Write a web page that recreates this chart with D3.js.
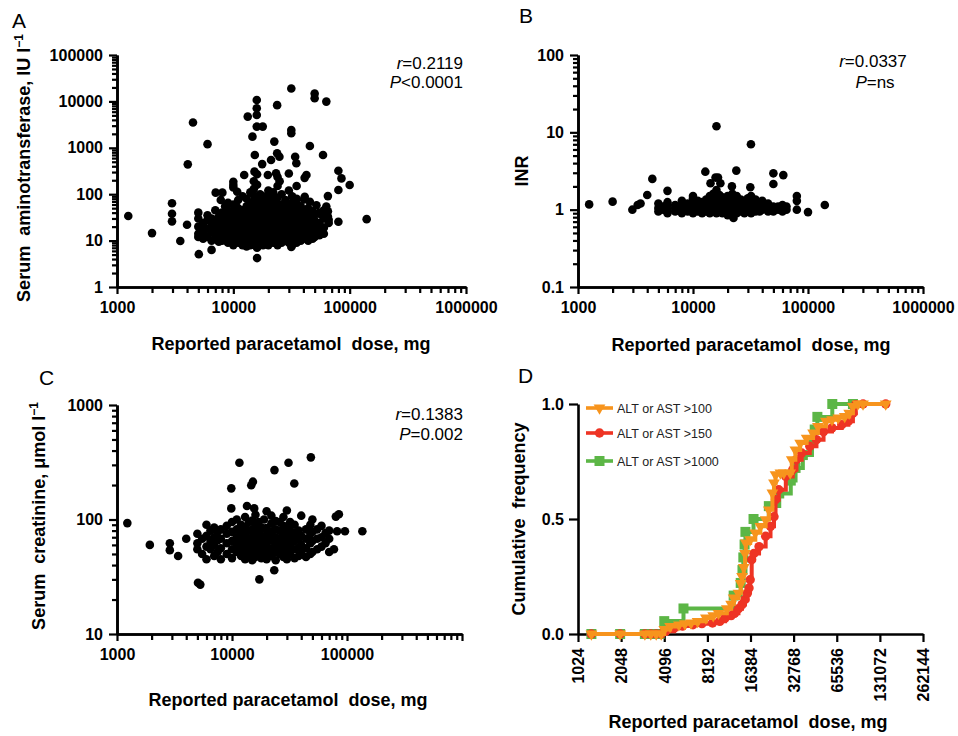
<!DOCTYPE html>
<html>
<head>
<meta charset="utf-8">
<script src="https://cdn.jsdelivr.net/npm/d3@7"></script>
<style>
body { margin: 0; background: #fff; }
</style>
</head>
<body>
<script>
// ---- data ----
var doseTicks = [1000, 10000, 100000, 1000000];
var aminoTicks = [1, 10, 100, 1000, 10000, 100000];
var inrTicks = [0.1, 1, 10, 100];
var creatTicks = [10, 100, 1000];
var cumDoseTicks = [1024, 2048, 4096, 8192, 16384, 32768, 65536, 131072, 262144];
var cumFreqTicks = [0, 0.5, 1];

// panel A: serum aminotransferase (IU/l) vs dose (mg)
var aminoOutliers = [
    [1250, 34], [2000, 14.5], [2970, 64], [2970, 38], [2970, 26], [3500, 9.8], [4000, 22], [4060, 440],
    [4500, 3500], [5050, 5.1], [5000, 40], [6000, 1200], [6500, 6.3], [7050, 108], [8050, 108], [7800, 75],
    [13300, 4700], [15900, 10700], [15900, 7100], [15900, 5100], [15900, 2860], [17900, 2860], [14600, 1740],
    [16000, 4.2], [23800, 8300], [31500, 19000], [31500, 2420], [31500, 2060], [31500, 7.3], [50000, 14800],
    [50000, 11700], [63000, 9900], [22500, 1360], [45500, 1090], [59000, 700], [23800, 760], [24900, 640],
    [15300, 700], [34000, 640], [34800, 465], [21100, 545], [17700, 445], [12400, 260], [80000, 320],
    [85000, 219], [100000, 158], [80000, 123], [65000, 91], [80000, 25.5], [140000, 29], [42500, 260],
    [41000, 225], [30000, 280], [24000, 235], [25000, 190], [15000, 190], [16000, 270], [10000, 185],
    [10000, 158], [10800, 113], [40500, 77], [57000, 36], [19800, 260], [23300, 282], [15200, 306],
    [60000, 14], [45500, 69], [51800, 58], [63000, 54], [41100, 88], [65000, 43], [65000, 33]
];
// columns: dose, then values
var aminoCols = [
    [5000, 12, 14, 20, 30], [5500, 11, 16, 24], [6000, 12, 18, 28, 35], [6500, 10, 15, 22, 30],
    [7000, 11, 14, 19, 26, 45], [7500, 9.5, 13, 17, 24, 33], [8000, 10, 12, 16, 21, 28, 40],
    [8500, 11, 15, 20, 27, 55], [9000, 9, 13, 18, 24, 32, 45, 65],
    [10000, 8, 10, 12, 15, 19, 25, 32, 42, 60, 140], [11000, 9, 11, 14, 18, 23, 30, 38, 50, 75],
    [12000, 8, 10, 13, 16, 20, 26, 34, 45, 90], [13000, 7.5, 9, 12, 15, 19, 24, 31, 40, 55, 80],
    [14000, 8, 10, 13, 17, 22, 28, 36, 48, 65, 110], [15000, 9, 11, 14, 18, 23, 30, 39, 52, 70, 95, 130],
    [16000, 7, 8.5, 10, 12, 16, 20, 26, 34, 44, 60, 85, 160], [17000, 9, 11, 14, 18, 23, 30, 40, 55, 75, 100],
    [18000, 8, 10, 13, 17, 22, 28, 37, 50, 68, 90], [19000, 9, 12, 15, 20, 26, 33, 45, 62],
    [20000, 8, 10, 13, 16, 21, 27, 35, 47, 65, 90, 120], [22000, 9, 11, 14, 18, 24, 31, 42, 58, 80, 110],
    [24000, 8, 10, 12, 15, 20, 26, 34, 45, 62, 85, 150], [26000, 9, 11, 14, 18, 24, 32, 44, 60, 100],
    [28000, 10, 13, 16, 21, 28, 38, 52, 75], [30000, 9, 11, 14, 18, 23, 30, 40, 55, 120],
    [32000, 8, 10, 12, 15, 20, 26, 35, 48, 65, 90], [35000, 9, 12, 15, 19, 25, 33, 45, 62, 80, 150],
    [38000, 10, 13, 17, 22, 29, 40, 55], [40000, 11, 14, 18, 24, 32, 44],
    [44000, 10, 13, 16, 21, 28, 38, 50], [48000, 11, 14, 18, 24, 32, 43], [50000, 12, 15, 20, 27, 36],
    [55000, 13, 17, 24, 40], [60000, 19, 30, 45], [66000, 24, 28]
];

// panel B: INR vs dose
var inrOutliers = [
    [1250, 1.17], [2000, 1.27], [2970, 1.0], [3300, 1.15], [3500, 1.2], [4000, 1.55], [4430, 2.5], [6000, 1.75],
    [12800, 3.1], [15700, 2.6], [14200, 2.2], [16000, 12], [17300, 2.2], [16500, 2.6], [21800, 2.0],
    [23800, 3.2], [31500, 1.95], [31900, 7.0], [50000, 2.95], [50000, 2.15], [61000, 2.8], [80000, 1.5],
    [80000, 1.3], [80000, 1.0], [100000, 0.93], [140000, 1.15], [22500, 0.78]
];
var inrCols = [
    [5000, 0.95, 1.05, 1.2], [5500, 1.0, 1.1], [6000, 0.9, 1.0, 1.15, 1.25], [7000, 0.95, 1.05, 1.15],
    [8000, 0.9, 1.0, 1.1, 1.3], [9000, 0.95, 1.05, 1.2], [10000, 0.9, 1.0, 1.1, 1.2, 1.4, 1.5],
    [11000, 0.95, 1.05, 1.15, 1.3], [12000, 0.9, 1.0, 1.1, 1.25], [13000, 0.95, 1.05, 1.2, 1.35],
    [14000, 0.9, 1.0, 1.1, 1.25, 1.5], [15000, 0.95, 1.05, 1.15, 1.3, 1.6], [16000, 0.9, 1.0, 1.1, 1.2, 1.4, 1.8],
    [17000, 0.95, 1.05, 1.15, 1.3, 1.55], [18000, 0.9, 1.0, 1.1, 1.25, 1.45], [20000, 0.85, 0.95, 1.05, 1.15, 1.3, 1.5],
    [22000, 0.85, 0.9, 1.0, 1.1, 1.2, 1.4, 1.6], [24000, 0.9, 1.0, 1.1, 1.25, 1.5], [26000, 0.95, 1.05, 1.2, 1.35],
    [28000, 0.9, 1.0, 1.1, 1.3], [30000, 0.95, 1.05, 1.15, 1.4], [32000, 0.9, 1.0, 1.1, 1.25, 1.5],
    [35000, 0.95, 1.05, 1.2, 1.35], [38000, 0.95, 1.05, 1.15], [40000, 1.0, 1.1, 1.3], [45000, 0.95, 1.05, 1.2],
    [50000, 0.95, 1.0, 1.1], [55000, 1.0, 1.1], [60000, 0.95, 1.05, 1.15], [65000, 1.0, 1.1]
];

// panel C: serum creatinine (umol/l) vs dose
var creatOutliers = [
    [1230, 93], [1930, 60], [2880, 62], [2880, 54], [3400, 48], [4000, 68], [5060, 28], [5300, 27],
    [17300, 30], [23300, 36], [11600, 313], [31000, 313], [48500, 349], [23400, 270], [15200, 214],
    [14700, 199], [34800, 206], [9860, 187], [9860, 125], [13500, 131], [15600, 125], [77000, 55],
    [80000, 106], [85000, 111], [82000, 79], [96000, 79], [136000, 79]
];
var creatCols = [
    [5000, 55, 62, 75], [5500, 50, 68], [6000, 45, 58, 72, 90], [6500, 55, 65, 80], [7000, 48, 60, 70, 85],
    [7500, 52, 66, 78], [8000, 45, 56, 68, 82], [9000, 50, 62, 75, 88], [10000, 46, 55, 65, 78, 95],
    [11000, 52, 60, 70, 82, 100], [12000, 48, 56, 66, 76, 90], [13000, 45, 53, 62, 72, 85, 105],
    [14000, 50, 58, 68, 80, 95], [15000, 44, 52, 60, 70, 82, 98], [16000, 47, 55, 64, 74, 88, 110],
    [17000, 50, 58, 68, 80, 95], [18000, 46, 54, 62, 72, 85], [19000, 50, 60, 70, 83, 100],
    [20000, 45, 53, 62, 72, 84, 118], [22000, 48, 56, 66, 78, 92, 108], [24000, 44, 52, 60, 70, 82, 97],
    [26000, 50, 58, 68, 80, 95], [28000, 47, 55, 64, 75, 88, 105], [30000, 45, 53, 62, 72, 85, 120],
    [32000, 50, 58, 68, 80, 95], [35000, 46, 55, 65, 76, 90], [38000, 48, 57, 68, 80], [40000, 50, 60, 72, 108],
    [44000, 47, 56, 68, 82], [48000, 50, 62, 75, 90], [50000, 52, 65, 78, 100], [55000, 55, 68, 82],
    [60000, 58, 70, 88], [65000, 62, 76], [70000, 52, 68, 80]
];

// panel D: cumulative frequency [dose, fraction]
var cum100 = [
    [1270, 0], [2016, 0], [3000, 0], [3300, 0], [3600, 0], [3900, 0], [4096, 0.02], [4500, 0.033], [5180, 0.04],
    [5700, 0.045], [6300, 0.048], [7000, 0.055], [8000, 0.07], [9000, 0.08], [9800, 0.09], [11200, 0.11],
    [12000, 0.13], [12500, 0.157], [13500, 0.178], [14000, 0.22], [14300, 0.25], [14700, 0.29], [15000, 0.35],
    [15200, 0.396], [16300, 0.41], [17700, 0.44], [19200, 0.468], [20900, 0.497], [22000, 0.54], [23300, 0.613],
    [23900, 0.657], [24500, 0.693], [26500, 0.70], [28000, 0.70], [31000, 0.70], [31800, 0.758], [33700, 0.80],
    [36400, 0.83], [40400, 0.852], [44800, 0.874], [48400, 0.903], [55000, 0.925], [60700, 0.932], [67000, 0.94],
    [74500, 0.946], [80000, 0.96], [85000, 0.99], [92000, 1.0], [100000, 1.0], [144000, 1.0]
];
var cum150 = [
    [1270, 0], [2016, 0], [3000, 0], [3300, 0], [3600, 0], [3900, 0], [4200, 0.012], [4800, 0.025], [5500, 0.035],
    [6500, 0.04], [7500, 0.045], [8900, 0.048], [10000, 0.055], [10900, 0.07], [12000, 0.08], [12700, 0.09],
    [13500, 0.11], [14300, 0.128], [15000, 0.15], [15600, 0.178], [16000, 0.2], [16300, 0.236], [16700, 0.323],
    [17300, 0.35], [18800, 0.38], [20900, 0.425], [22600, 0.468], [23900, 0.51], [24500, 0.584], [25800, 0.627],
    [28900, 0.685], [32300, 0.714], [34300, 0.758], [37300, 0.787], [42500, 0.816], [47300, 0.845], [53000, 0.88],
    [60700, 0.896], [71000, 0.91], [79000, 0.925], [85000, 0.96], [89000, 0.997], [100000, 1.0], [144000, 1.0]
];
var cum1000 = [
    [1270, 0], [2016, 0], [3000, 0], [3400, 0], [3800, 0], [4096, 0.056], [5580, 0.111], [12500, 0.167],
    [14000, 0.222], [14400, 0.278], [14600, 0.333], [14900, 0.389], [15100, 0.444], [17200, 0.5], [22000, 0.556],
    [26000, 0.611], [31300, 0.667], [33800, 0.722], [38000, 0.778], [44000, 0.833], [46000, 0.889],
    [48000, 0.944], [61000, 1.0], [85000, 1.0]
];
var seriesNames = ['ALT or AST >100', 'ALT or AST >150', 'ALT or AST >1000'];
var seriesColors = ['#f7941d', '#ee3424', '#5cb646'];

// ---- drawing ----
var FONT = '"Liberation Sans", Arial, Helvetica, sans-serif';
var svg = d3.select('body').append('svg')
    .attr('width', 958).attr('height', 736)
    .style('font-family', FONT);

function expandCols(cols) {
    var out = [];
    cols.forEach(function (c) {
        for (var i = 1; i < c.length; i++) out.push([c[0], c[i]]);
    });
    return out;
}

function minorTicks(majors) {
    var t = [];
    for (var i = 0; i < majors.length - 1; i++)
        for (var k = 2; k < 10; k++) t.push(majors[i] * k);
    return t;
}

function styleAxis(g) {
    g.attr('font-family', null).attr('font-size', null);
    g.select('.domain').attr('stroke', '#000').attr('stroke-width', 2.6);
    g.selectAll('.tick line').attr('stroke', '#000').attr('stroke-width', 2.2);
    g.selectAll('.tick text')
        .attr('fill', '#000')
        .style('font-size', '16px')
        .style('font-weight', 'bold');
}

function numLabel(d) {
    return String(d);
}

function panelLetter(x, y, s) {
    svg.append('text').attr('x', x).attr('y', y)
        .style('font-size', '21px')
        .text(s);
}

function xTitle(cx, y) {
    svg.append('text').attr('x', cx).attr('y', y)
        .attr('text-anchor', 'middle')
        .style('font-size', '18px').style('font-weight', 'bold')
        .style('white-space', 'pre')
        .text('Reported paracetamol  dose, mg');
}

function yTitle(x, cy, main, sup) {
    var t = svg.append('text')
        .attr('transform', 'translate(' + x + ',' + cy + ') rotate(-90)')
        .attr('text-anchor', 'middle')
        .style('font-size', '18px').style('font-weight', 'bold')
        .style('white-space', 'pre');
    t.append('tspan').text(main);
    if (sup) {
        t.append('tspan').attr('dy', -7).style('font-size', '12px').text(sup);
    }
}

function statText(x, y, anchor, italicPart, rest) {
    var t = svg.append('text').attr('x', x).attr('y', y)
        .attr('text-anchor', anchor)
        .style('font-size', '17px');
    t.append('tspan').style('font-style', 'italic').text(italicPart);
    t.append('tspan').text(rest);
}

function scatterPanel(p) {
    var x = d3.scaleLog().domain([1000, 1000000]).range([p.left, p.right]);
    var y = d3.scaleLog().domain(p.yDomain).range([p.bottom, p.top]);
    var g = svg.append('g');

    var gxMinor = g.append('g').attr('transform', 'translate(0,' + p.bottom + ')')
        .call(d3.axisBottom(x).tickValues(minorTicks(doseTicks)).tickSize(6).tickSizeOuter(0).tickFormat(''));
    styleAxis(gxMinor);
    var gx = g.append('g').attr('transform', 'translate(0,' + p.bottom + ')')
        .call(d3.axisBottom(x).tickValues(doseTicks).tickSize(7).tickSizeOuter(0).tickPadding(8)
            .tickFormat(function (d) { return p.xLabeled.indexOf(d) >= 0 ? numLabel(d) : ''; }));
    styleAxis(gx);

    var gyMinor = g.append('g').attr('transform', 'translate(' + p.left + ',0)')
        .call(d3.axisLeft(y).tickValues(minorTicks(p.yTicks)).tickSize(5).tickSizeOuter(0).tickFormat(''));
    styleAxis(gyMinor);
    var gy = g.append('g').attr('transform', 'translate(' + p.left + ',0)')
        .call(d3.axisLeft(y).tickValues(p.yTicks).tickSize(8).tickSizeOuter(0).tickPadding(6).tickFormat(numLabel));
    styleAxis(gy);

    var pts = p.outliers.concat(expandCols(p.cols));
    g.append('g').selectAll('circle')
        .data(pts)
        .enter()
        .append('circle')
        .attr('cx', function (d) { return x(d[0]); })
        .attr('cy', function (d) { return y(d[1]); })
        .attr('r', 4.3)
        .attr('fill', '#000');
}

// A
scatterPanel({
    left: 117, right: 466, top: 55, bottom: 287,
    yDomain: [1, 100000], yTicks: aminoTicks, xLabeled: doseTicks,
    outliers: aminoOutliers, cols: aminoCols
});
panelLetter(12, 28, 'A');
yTitle(30, 168, 'Serum  aminotransferase, IU l', '\u22121');
xTitle(291, 350);
statText(463, 69, 'end', 'r', '=0.2119');
statText(463, 88, 'end', 'P', '<0.0001');

// B
scatterPanel({
    left: 578, right: 923, top: 55, bottom: 287,
    yDomain: [0.1, 100], yTicks: inrTicks, xLabeled: doseTicks,
    outliers: inrOutliers, cols: inrCols
});
panelLetter(519, 23, 'B');
yTitle(528, 171, 'INR');
xTitle(751, 351);
statText(873, 67, 'middle', 'r', '=0.0337');
statText(875, 88, 'middle', 'P', '=ns');

// C
scatterPanel({
    left: 117, right: 462, top: 405, bottom: 634,
    yDomain: [10, 1000], yTicks: creatTicks, xLabeled: [1000, 10000, 100000],
    outliers: creatOutliers, cols: creatCols
});
panelLetter(39, 385, 'C');
yTitle(45, 516, 'Serum  creatinine, \u03bcmol l', '\u22121');
xTitle(288, 706);
statText(463, 420, 'end', 'r', '=0.1383');
statText(463, 440, 'end', 'P', '=0.002');

// D
(function () {
    var x = d3.scaleLog().base(2).domain([1024, 262144]).range([578, 923]);
    var y = d3.scaleLinear().domain([0, 1]).range([634, 404]);
    var g = svg.append('g');

    var gx = g.append('g').attr('transform', 'translate(0,634)')
        .call(d3.axisBottom(x).tickValues(cumDoseTicks).tickSize(8).tickSizeOuter(0).tickFormat(d3.format('d')));
    styleAxis(gx);
    gx.selectAll('.tick text')
        .attr('transform', 'rotate(-90)')
        .attr('text-anchor', 'end')
        .attr('x', -14).attr('y', 0).attr('dy', '0.36em');

    var gy = g.append('g').attr('transform', 'translate(578,0)')
        .call(d3.axisLeft(y).tickValues(cumFreqTicks).tickSize(9).tickSizeOuter(0).tickPadding(5).tickFormat(d3.format('.1f')));
    styleAxis(gy);

    var line = d3.line()
        .x(function (d) { return x(d[0]); })
        .y(function (d) { return y(d[1]); })
        .curve(d3.curveStepAfter);

    var series = [cum100, cum150, cum1000];
    var drawOrder = [2, 1, 0];
    var tri = d3.symbol().type(d3.symbolTriangle).size(60)();

    function marker(sel, i) {
        if (i === 0) {
            sel.append('path').attr('d', tri).attr('transform', 'rotate(180)').attr('fill', seriesColors[0]);
        } else if (i === 1) {
            sel.append('circle').attr('r', 4.7).attr('fill', seriesColors[1]);
        } else {
            sel.append('rect').attr('x', -5).attr('y', -5).attr('width', 10).attr('height', 10).attr('fill', seriesColors[2]);
        }
    }

    drawOrder.forEach(function (i) {
        var sg = g.append('g');
        sg.append('path')
            .datum(series[i])
            .attr('d', line)
            .attr('fill', 'none')
            .attr('stroke', seriesColors[i])
            .attr('stroke-width', 4);
        sg.selectAll('g.mk')
            .data(series[i])
            .enter()
            .append('g')
            .attr('class', 'mk')
            .attr('transform', function (d) { return 'translate(' + x(d[0]) + ',' + y(d[1]) + ')'; })
            .each(function () { marker(d3.select(this), i); });
    });

    // legend
    var legY = [408, 433, 461];
    seriesNames.forEach(function (name, i) {
        var lg = g.append('g').attr('transform', 'translate(586,' + legY[i] + ')');
        lg.append('line').attr('x1', 0).attr('x2', 27).attr('y1', 0).attr('y2', 0)
            .attr('stroke', seriesColors[i]).attr('stroke-width', 3.6);
        var m = lg.append('g').attr('transform', 'translate(13.5,0)');
        marker(m, i);
        lg.append('text').attr('x', 31).attr('y', 5)
            .style('font-size', '12.5px')
            .attr('fill', '#222')
            .text(name);
    });
})();
panelLetter(518, 383, 'D');
yTitle(525, 519, 'Cumulative  frequency');
svg.append('text').attr('x', 748).attr('y', 728)
    .attr('text-anchor', 'middle')
    .style('font-size', '18px').style('font-weight', 'bold')
    .style('white-space', 'pre')
    .text('Reported paracetamol  dose, mg');
</script>
</body>
</html>
